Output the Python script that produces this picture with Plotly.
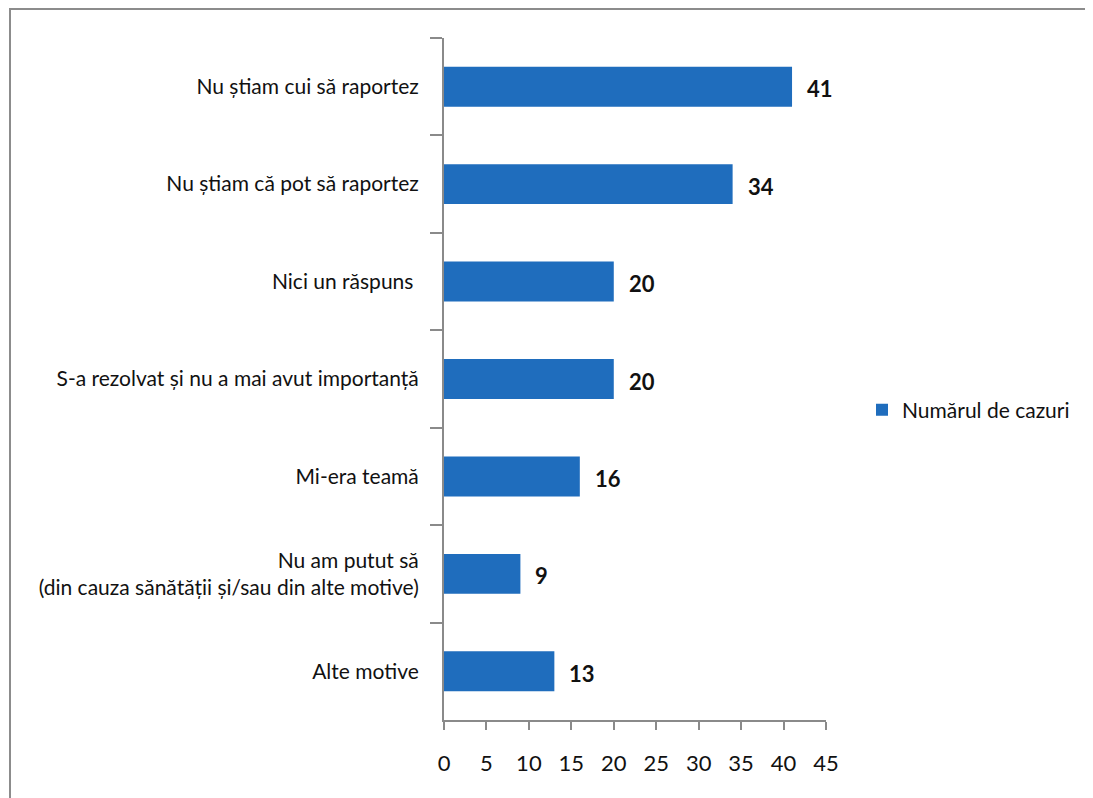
import plotly.graph_objects as go

categories = [
    "Nu știam cui să raportez",
    "Nu știam că pot să raportez",
    "Nici un răspuns ",
    "S-a rezolvat și nu a mai avut importanță",
    "Mi-era teamă",
    "Nu am putut să<br>(din cauza sănătății și/sau din alte motive)",
    "Alte motive",
]
values = [41, 34, 20, 20, 16, 9, 13]
series_name = "Numărul de cazuri"
x_ticks = [0, 5, 10, 15, 20, 25, 30, 35, 40, 45]

FONT = "Lato, 'Open Sans', sans-serif"
OFF = 8  # page body margin offset
W, H = 1093 - OFF, 798 - OFF
L = 444 - OFF
T = 38 - OFF
R = W - (826 - OFF)
B = H - (720 - OFF)
pw, ph = W - L - R, H - T - B


def px_x(p):
    return (p - OFF - L) / pw


def px_y(p):
    return (H - B - (p - OFF)) / ph


fig = go.Figure(go.Bar(
    y=categories, x=values, orientation="h", name=series_name,
    marker=dict(color="#1f6dbd", line=dict(width=0)),
    showlegend=True,
))

annotations = [
    dict(x=v, y=c, xref="x", yref="y", text="<b>%d</b>" % v, showarrow=False,
         xanchor="left", yanchor="middle", xshift=13, yshift=-2,
         font=dict(family=FONT, size=22, color="#111"))
    for c, v in zip(categories, values)
]

fx0, fx1 = px_x(10), px_x(1130)
fy0, fy1 = px_y(840), px_y(9)
frame_path = "M %f,%f L %f,%f L %f,%f" % (fx0, fy0, fx0, fy1, fx1, fy1)

fig.update_layout(
    width=W, height=H,
    margin=dict(l=L, r=R, t=T, b=B),
    paper_bgcolor="white", plot_bgcolor="white",
    bargap=0.59,
    font=dict(family=FONT, color="#111"),
    legend=dict(x=px_x(862), y=px_y(410), xanchor="left", yanchor="middle",
                font=dict(family=FONT, size=21, color="#111"),
                itemwidth=30, bgcolor="rgba(0,0,0,0)"),
    xaxis=dict(range=[0, 45], tickvals=x_ticks, showgrid=False, zeroline=False,
               showline=True, linecolor="#8a8a8a", linewidth=2,
               ticks="outside", ticklen=8, tickcolor="#8a8a8a", tickwidth=2,
               tickfont=dict(family=FONT, size=22, color="#111"),
               ticklabelstandoff=15, fixedrange=True),
    yaxis=dict(autorange="reversed", showgrid=False, zeroline=False,
               showline=True, linecolor="#8a8a8a", linewidth=2,
               ticks="outside", ticklen=12, tickcolor="#8a8a8a", tickwidth=2,
               tickson="boundaries",
               tickfont=dict(family=FONT, size=21, color="#111"),
               ticklabelstandoff=19, fixedrange=True),
    annotations=annotations,
    shapes=[dict(type="path", xref="paper", yref="paper", path=frame_path,
                 line=dict(color="#8c8c8c", width=2), layer="below")],
)

fig.write_html("out.html")
